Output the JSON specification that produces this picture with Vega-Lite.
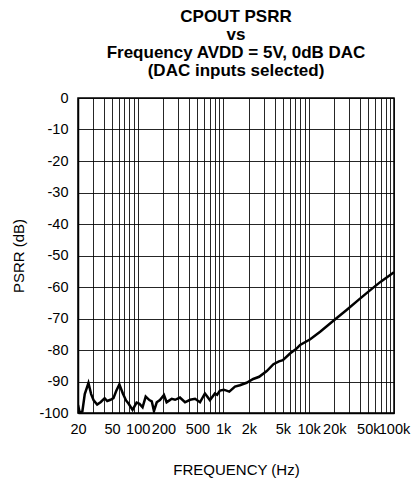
{
  "$schema": "https://vega.github.io/schema/vega-lite/v6.json",
  "width": 316,
  "height": 315,
  "autosize": {"type": "none"},
  "padding": {"left": 78, "top": 98, "right": 21, "bottom": 65},
  "background": "white",
  "title": {
    "text": ["CPOUT PSRR", "vs", "Frequency AVDD = 5V, 0dB DAC", "(DAC inputs selected)"],
    "font": "Liberation Sans",
    "fontSize": 17,
    "fontWeight": "bold",
    "lineHeight": 18,
    "color": "black",
    "offset": 10
  },
  "data": {
    "values": [
      {"freq": 20, "psrr": -97.5},
      {"freq": 21, "psrr": -100},
      {"freq": 22.5, "psrr": -99.5},
      {"freq": 24, "psrr": -94},
      {"freq": 26.5, "psrr": -90.5},
      {"freq": 28.5, "psrr": -94},
      {"freq": 30.5, "psrr": -96},
      {"freq": 33.5, "psrr": -97.3},
      {"freq": 37, "psrr": -96.5},
      {"freq": 41, "psrr": -95.3},
      {"freq": 44, "psrr": -96.2},
      {"freq": 48, "psrr": -95.8},
      {"freq": 52, "psrr": -95.3},
      {"freq": 56, "psrr": -93},
      {"freq": 61, "psrr": -90.9},
      {"freq": 67, "psrr": -93.8},
      {"freq": 73, "psrr": -96},
      {"freq": 78, "psrr": -97},
      {"freq": 87, "psrr": -99},
      {"freq": 97, "psrr": -96.7},
      {"freq": 105, "psrr": -97.1},
      {"freq": 114, "psrr": -98.2},
      {"freq": 124, "psrr": -94.8},
      {"freq": 137, "psrr": -95.9},
      {"freq": 146, "psrr": -96.3},
      {"freq": 155, "psrr": -99.4},
      {"freq": 167, "psrr": -96.6},
      {"freq": 182, "psrr": -95.9},
      {"freq": 203, "psrr": -94.3},
      {"freq": 218, "psrr": -96.6},
      {"freq": 235, "psrr": -96.0},
      {"freq": 250, "psrr": -95.5},
      {"freq": 274, "psrr": -95.8},
      {"freq": 312, "psrr": -95.1},
      {"freq": 358, "psrr": -96.6},
      {"freq": 410, "psrr": -95.8},
      {"freq": 469, "psrr": -95.5},
      {"freq": 536, "psrr": -96.6},
      {"freq": 612, "psrr": -93.8},
      {"freq": 700, "psrr": -95.9},
      {"freq": 802, "psrr": -93.8},
      {"freq": 850, "psrr": -94.2},
      {"freq": 917, "psrr": -92.9},
      {"freq": 1020, "psrr": -92.6},
      {"freq": 1180, "psrr": -93.2},
      {"freq": 1376, "psrr": -91.6},
      {"freq": 1570, "psrr": -91.2},
      {"freq": 1880, "psrr": -90.4},
      {"freq": 2250, "psrr": -89.2},
      {"freq": 2640, "psrr": -88.5},
      {"freq": 3240, "psrr": -86.7},
      {"freq": 3880, "psrr": -84.5},
      {"freq": 4500, "psrr": -83.6},
      {"freq": 5000, "psrr": -83.2},
      {"freq": 6060, "psrr": -81.1},
      {"freq": 7280, "psrr": -79.5},
      {"freq": 7960, "psrr": -78.4},
      {"freq": 10460, "psrr": -76.6},
      {"freq": 13660, "psrr": -74.2},
      {"freq": 20000, "psrr": -70.5},
      {"freq": 27860, "psrr": -67.3},
      {"freq": 40000, "psrr": -63.7},
      {"freq": 52700, "psrr": -61},
      {"freq": 70000, "psrr": -58.3},
      {"freq": 100000, "psrr": -55.3}
    ]
  },
  "mark": {"type": "line", "color": "black", "strokeWidth": 2.5, "clip": true},
  "encoding": {
    "x": {
      "field": "freq",
      "type": "quantitative",
      "scale": {"type": "log", "domain": [20, 100000], "nice": false},
      "axis": {
        "title": "FREQUENCY (Hz)",
        "values": [20,30,40,50,60,70,80,90,100,200,300,400,500,600,700,800,900,1000,2000,3000,4000,5000,6000,7000,8000,9000,10000,20000,30000,40000,50000,60000,70000,80000,90000,100000],
        "labelExpr": "indexof([20,50,100,200,500,1000,2000,5000,10000,20000,50000,100000], datum.value) >= 0 ? (datum.value >= 1000 ? (datum.value/1000) + 'k' : datum.value + '') : ''",
        "grid": true,
        "gridColor": "black",
        "gridOpacity": 0.85,
        "gridWidth": 1,
        "ticks": false,
        "domain": true,
        "domainColor": "black",
        "domainWidth": 1.5,
        "labelFont": "Liberation Sans",
        "labelFontSize": 14.5,
        "labelColor": "black",
        "labelPadding": 9,
        "labelOverlap": false,
        "labelFlush": false,
        "titleFont": "Liberation Sans",
        "titleFontSize": 15,
        "titleFontWeight": "normal",
        "titleColor": "black",
        "titlePadding": 27
      }
    },
    "y": {
      "field": "psrr",
      "type": "quantitative",
      "scale": {"domain": [-100, 0], "nice": false},
      "axis": {
        "title": "PSRR (dB)",
        "values": [0,-10,-20,-30,-40,-50,-60,-70,-80,-90,-100],
        "labelExpr": "datum.value + ''",
        "grid": true,
        "gridColor": "black",
        "gridOpacity": 0.85,
        "gridWidth": 1,
        "ticks": false,
        "domain": true,
        "domainColor": "black",
        "domainWidth": 1.5,
        "labelFont": "Liberation Sans",
        "labelFontSize": 14.5,
        "labelColor": "black",
        "labelPadding": 10,
        "titleFont": "Liberation Sans",
        "titleFontSize": 15,
        "titleFontWeight": "normal",
        "titleColor": "black",
        "titlePadding": 12
      }
    }
  },
  "config": {
    "view": {"stroke": "black", "strokeWidth": 1.5}
  }
}
